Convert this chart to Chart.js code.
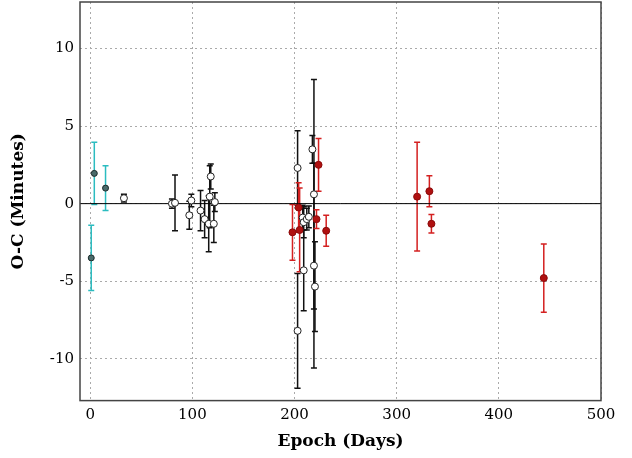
<!DOCTYPE html>
<html>
<head>
<meta charset="utf-8">
<script src="https://cdn.jsdelivr.net/npm/chart.js@4.4.0/dist/chart.umd.min.js"></script>
<style>
  body { margin: 0; background: #fff; overflow: hidden; }
  #wrap { width: 632px; height: 471px; margin-top: -13px; }
</style>
</head>
<body>
<div id="wrap"><canvas id="c"></canvas></div>
<script>
// [epoch, O-C, error]
const cyanPts = [[1, -3.5, 2.1], [4, 1.95, 2.0], [15, 1.0, 1.45]];
const blackPts = [
  [33, 0.35, 0.25], [80, 0.0, 0.3], [83, 0.05, 1.8], [97, -0.75, 0.9], [99, 0.2, 0.4],
  [108, -0.45, 1.3], [112, -1.0, 1.2], [116, -1.3, 1.8], [117, 0.45, 2.0], [118, 1.75, 0.8],
  [121, -1.3, 1.2], [122, 0.1, 0.6],
  [203, 2.3, 2.4], [203, -8.2, 3.7], [208, -0.9, 0.8], [209, -1.2, 1.0], [209, -4.3, 2.6],
  [212, -1.0, 0.7], [214, -0.85, 0.7], [217.5, 3.5, 0.9], [219, 0.6, 7.4], [219, -4.0, 6.6],
  [220, -5.35, 2.9]
];
const redPts = [
  [198, -1.85, 1.8], [204, -0.25, 1.6], [205, -1.7, 2.7], [223.5, 2.5, 1.7], [221.5, -1.0, 0.6],
  [231, -1.75, 1.0], [320, 0.45, 3.5], [332, 0.8, 1.0], [334, -1.3, 0.6], [444, -4.8, 2.2]
];
const xTicks = [0, 100, 200, 300, 400, 500];
const yTicks = [-10, -5, 0, 5, 10];

const toXY = a => a.map(p => ({ x: p[0], y: p[1], e: p[2] }));

const errorBars = {
  id: 'errorBars',
  beforeDatasetsDraw(chart) {
    const { ctx, scales: { x, y } } = chart;
    ctx.save();
    chart.data.datasets.forEach(ds => {
      if (!ds.errColor) return;
      ctx.strokeStyle = ds.errColor;
      ctx.lineWidth = 1.5;
      ds.data.forEach(p => {
        const px = x.getPixelForValue(p.x);
        const t = y.getPixelForValue(p.y + p.e), b = y.getPixelForValue(p.y - p.e);
        ctx.beginPath();
        ctx.moveTo(px, t); ctx.lineTo(px, b);
        ctx.moveTo(px - 3, t); ctx.lineTo(px + 3, t);
        ctx.moveTo(px - 3, b); ctx.lineTo(px + 3, b);
        ctx.stroke();
      });
    });
    // zero line
    const y0 = y.getPixelForValue(0);
    ctx.strokeStyle = '#000'; ctx.lineWidth = 1;
    ctx.beginPath(); ctx.moveTo(chart.chartArea.left, y0); ctx.lineTo(chart.chartArea.right, y0); ctx.stroke();
    ctx.restore();
  },
  afterDraw(chart) {
    const { ctx, chartArea: a } = chart;
    ctx.save();
    ctx.strokeStyle = '#444'; ctx.lineWidth = 1.5;
    ctx.strokeRect(a.left, a.top, a.right - a.left, a.bottom - a.top);
    ctx.restore();
  }
};

Chart.defaults.font.family = '"DejaVu Serif", serif';
Chart.defaults.color = '#000';

new Chart(document.getElementById('c'), {
  type: 'scatter',
  data: {
    datasets: [
      { data: toXY(cyanPts), errColor: '#2bbcc0', backgroundColor: '#4a6a6a', borderColor: '#1a2a2a', pointRadius: 3, borderWidth: 1 },
      { data: toXY(blackPts), errColor: '#111', backgroundColor: '#fff', borderColor: '#222', pointRadius: 3.5, borderWidth: 1 },
      { data: toXY(redPts), errColor: '#d42020', backgroundColor: '#b01010', borderColor: '#8a0a0a', pointRadius: 3.5, borderWidth: 1 }
    ]
  },
  options: {
    responsive: true,
    maintainAspectRatio: false,
    animation: false,
    layout: { padding: { top: 2, right: 31, left: 4, bottom: 2 } },
    plugins: { legend: { display: false }, tooltip: { enabled: false } },
    scales: {
      x: {
        min: -10, max: 500,
        afterBuildTicks: s => { s.ticks = xTicks.map(v => ({ value: v })); },
        grid: { color: '#aaa', lineWidth: 1, tickLength: 0, drawTicks: false },
        border: { display: false, dash: [2, 3] },
        ticks: { font: { size: 15 }, padding: 6 },
        title: { display: true, text: 'Epoch (Days)', font: { size: 17, weight: 'bold' }, padding: { top: 1 } }
      },
      y: {
        min: -12.7, max: 13,
        afterBuildTicks: s => { s.ticks = yTicks.map(v => ({ value: v })); },
        afterFit: s => { s.width = 76; },
        grid: { color: '#aaa', lineWidth: 1, drawTicks: false },
        border: { display: false, dash: [2, 3] },
        ticks: { font: { size: 15 }, padding: 6 },
        title: { display: true, text: 'O-C (Minutes)', font: { size: 17, weight: 'bold' } }
      }
    }
  },
  plugins: [errorBars]
});
</script>
</body>
</html>
